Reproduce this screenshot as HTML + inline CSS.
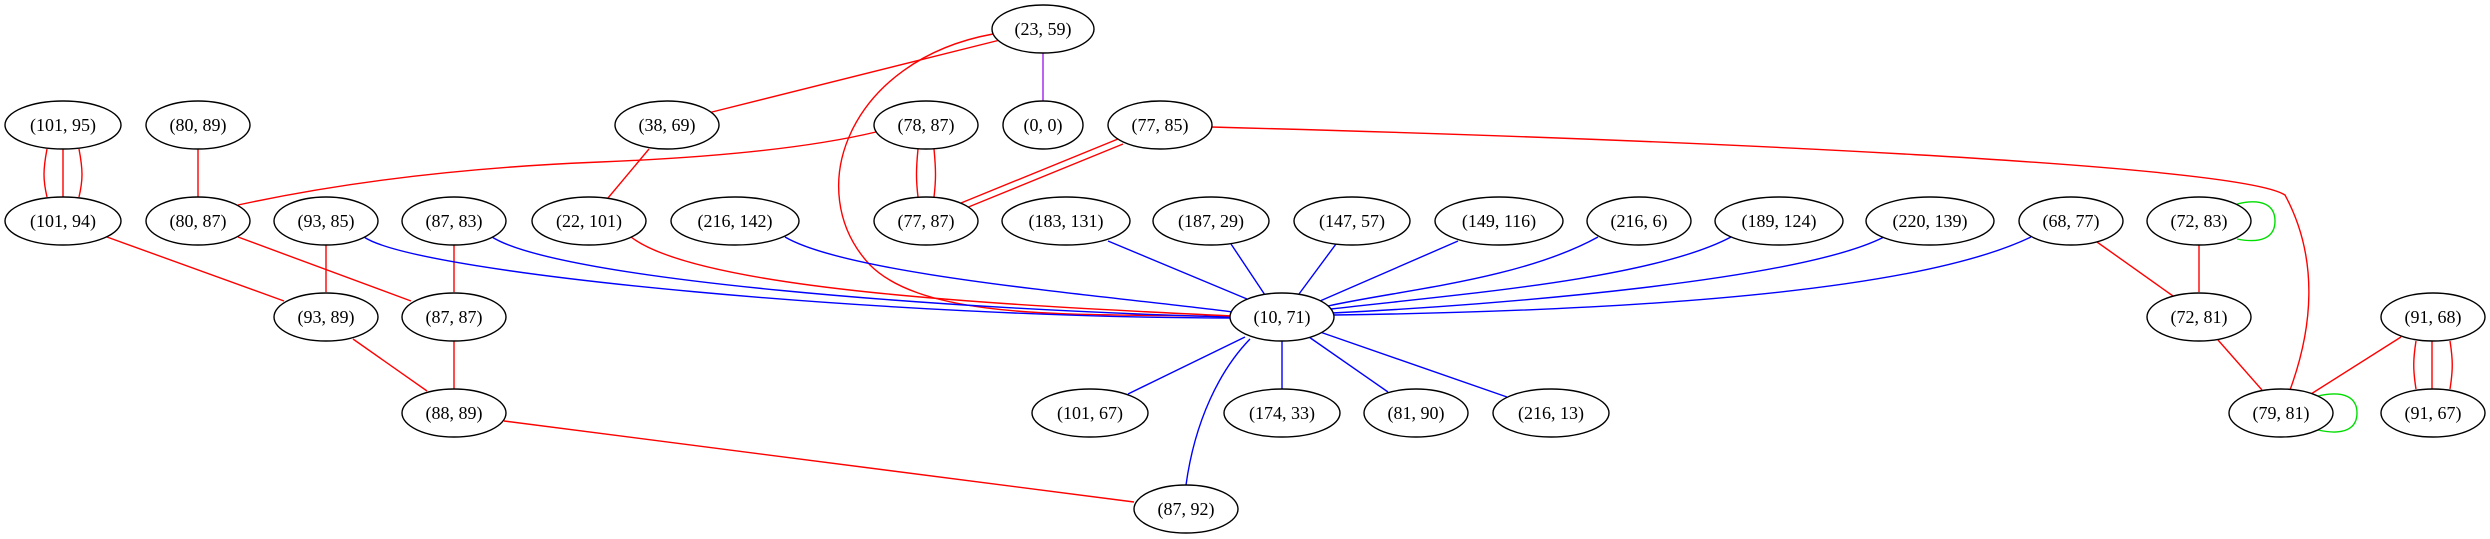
<!DOCTYPE html>
<html><head><meta charset="utf-8"><style>
html,body{margin:0;padding:0;background:#fff;}
svg{display:block;}
text{font-family:"Liberation Serif",serif;font-size:18px;text-anchor:middle;dominant-baseline:central;}
ellipse{fill:#fff;stroke:#000;stroke-width:1.4;}
path{fill:none;stroke-width:1.4;}
.r{stroke:#f00;}.b{stroke:#00f;}.g{stroke:#0d0;}.p{stroke:#a020f0;}
</style></head><body>
<svg width="2490" height="539" viewBox="0 0 2490 539" xmlns="http://www.w3.org/2000/svg">
<!-- edges -->
<path class="r" d="M1000,40 L700,115"/>
<path class="r" d="M993,34 C850,60 800,190 870,265 C930,325 1100,312 1232,317"/>
<path class="p" d="M1043,53 L1043,101"/>
<path class="r" d="M47,149 C43,170 43,180 47,197"/>
<path class="r" d="M63,149 L63,197"/>
<path class="r" d="M79,149 C83,170 83,180 79,197"/>
<path class="r" d="M198,149 L198,197"/>
<path class="r" d="M876,132 C800,150 700,158 600,162 C450,168 330,185 238,205"/>
<path class="r" d="M649,149 L608,198"/>
<path class="r" d="M918,149 C916,170 916,180 918,197"/>
<path class="r" d="M934,149 C936,170 936,180 934,197"/>
<path class="r" d="M1118,139 L961,203"/>
<path class="r" d="M1123,144 L966,208"/>
<path class="r" d="M1211,127 C1700,140 2240,165 2285,195 C2320,260 2312,330 2290,390"/>
<path class="r" d="M107,237 L284,301"/>
<path class="r" d="M238,237 L411,301"/>
<path class="r" d="M326,245 L326,292"/>
<path class="r" d="M454,245 L454,292"/>
<path class="b" d="M364,237 C420,275 900,318 1232,318"/>
<path class="b" d="M492,237 C560,280 950,310 1232,317"/>
<path class="r" d="M631,237 C700,290 1000,305 1232,316"/>
<path class="b" d="M785,237 C850,275 1100,295 1233,312"/>
<path class="b" d="M1108,241 L1247,299"/>
<path class="b" d="M1231,244 L1265,295"/>
<path class="b" d="M1336,244 L1299,294"/>
<path class="b" d="M1458,241 L1320,301"/>
<path class="b" d="M1598,237 C1520,280 1400,290 1328,306"/>
<path class="b" d="M1731,237 C1650,280 1450,295 1331,309"/>
<path class="b" d="M1884,237 C1800,280 1500,305 1332,313"/>
<path class="b" d="M2031,237 C1900,300 1550,312 1334,315"/>
<path class="r" d="M2097,242 L2173,296"/>
<path class="r" d="M2199,245 L2199,292"/>
<path class="g" d="M2237,204 C2262,198 2275,205 2275,221 C2275,237 2262,244 2237,239"/>
<path class="r" d="M2218,340 L2262,390"/>
<path class="r" d="M2401,337 L2311,394"/>
<path class="r" d="M2416,341 C2413,360 2413,370 2416,389"/>
<path class="r" d="M2432,341 L2432,389"/>
<path class="r" d="M2450,341 C2453,360 2453,370 2450,389"/>
<path class="g" d="M2318,396 C2345,390 2357,398 2357,413 C2357,428 2345,436 2318,430"/>
<path class="b" d="M1245,337 L1128,394"/>
<path class="b" d="M1250,339 C1220,370 1195,420 1186,485"/>
<path class="b" d="M1282,341 L1282,389"/>
<path class="b" d="M1309,337 L1388,392"/>
<path class="b" d="M1320,332 L1507,397"/>
<path class="r" d="M504,421 L1134,502"/>
<path class="r" d="M353,339 L427,391"/>
<path class="r" d="M454,341 L454,389"/>
<!-- nodes -->
<g>
<ellipse cx="1043" cy="29" rx="51" ry="24"/><text x="1043" y="29">(23, 59)</text>
<ellipse cx="63" cy="125" rx="58" ry="24"/><text x="63" y="125">(101, 95)</text>
<ellipse cx="198" cy="125" rx="52" ry="24"/><text x="198" y="125">(80, 89)</text>
<ellipse cx="667" cy="125" rx="52" ry="24"/><text x="667" y="125">(38, 69)</text>
<ellipse cx="926" cy="125" rx="52" ry="24"/><text x="926" y="125">(78, 87)</text>
<ellipse cx="1043" cy="125" rx="40" ry="24"/><text x="1043" y="125">(0, 0)</text>
<ellipse cx="1160" cy="125" rx="52" ry="24"/><text x="1160" y="125">(77, 85)</text>
<ellipse cx="63" cy="221" rx="58" ry="24"/><text x="63" y="221">(101, 94)</text>
<ellipse cx="198" cy="221" rx="52" ry="24"/><text x="198" y="221">(80, 87)</text>
<ellipse cx="326" cy="221" rx="52" ry="24"/><text x="326" y="221">(93, 85)</text>
<ellipse cx="454" cy="221" rx="52" ry="24"/><text x="454" y="221">(87, 83)</text>
<ellipse cx="589" cy="221" rx="57" ry="24"/><text x="589" y="221">(22, 101)</text>
<ellipse cx="735" cy="221" rx="64" ry="24"/><text x="735" y="221">(216, 142)</text>
<ellipse cx="926" cy="221" rx="52" ry="24"/><text x="926" y="221">(77, 87)</text>
<ellipse cx="1066" cy="221" rx="64" ry="24"/><text x="1066" y="221">(183, 131)</text>
<ellipse cx="1211" cy="221" rx="58" ry="24"/><text x="1211" y="221">(187, 29)</text>
<ellipse cx="1352" cy="221" rx="58" ry="24"/><text x="1352" y="221">(147, 57)</text>
<ellipse cx="1499" cy="221" rx="64" ry="24"/><text x="1499" y="221">(149, 116)</text>
<ellipse cx="1639" cy="221" rx="52" ry="24"/><text x="1639" y="221">(216, 6)</text>
<ellipse cx="1779" cy="221" rx="64" ry="24"/><text x="1779" y="221">(189, 124)</text>
<ellipse cx="1930" cy="221" rx="64" ry="24"/><text x="1930" y="221">(220, 139)</text>
<ellipse cx="2071" cy="221" rx="52" ry="24"/><text x="2071" y="221">(68, 77)</text>
<ellipse cx="2199" cy="221" rx="52" ry="24"/><text x="2199" y="221">(72, 83)</text>
<ellipse cx="326" cy="317" rx="52" ry="24"/><text x="326" y="317">(93, 89)</text>
<ellipse cx="454" cy="317" rx="52" ry="24"/><text x="454" y="317">(87, 87)</text>
<ellipse cx="1282" cy="317" rx="52" ry="24"/><text x="1282" y="317">(10, 71)</text>
<ellipse cx="2199" cy="317" rx="52" ry="24"/><text x="2199" y="317">(72, 81)</text>
<ellipse cx="2433" cy="317" rx="52" ry="24"/><text x="2433" y="317">(91, 68)</text>
<ellipse cx="454" cy="413" rx="52" ry="24"/><text x="454" y="413">(88, 89)</text>
<ellipse cx="1090" cy="413" rx="58" ry="24"/><text x="1090" y="413">(101, 67)</text>
<ellipse cx="1282" cy="413" rx="58" ry="24"/><text x="1282" y="413">(174, 33)</text>
<ellipse cx="1416" cy="413" rx="52" ry="24"/><text x="1416" y="413">(81, 90)</text>
<ellipse cx="1551" cy="413" rx="58" ry="24"/><text x="1551" y="413">(216, 13)</text>
<ellipse cx="2281" cy="413" rx="52" ry="24"/><text x="2281" y="413">(79, 81)</text>
<ellipse cx="2433" cy="413" rx="52" ry="24"/><text x="2433" y="413">(91, 67)</text>
<ellipse cx="1186" cy="509" rx="52" ry="24"/><text x="1186" y="509">(87, 92)</text>
</g>
</svg>
</body></html>
